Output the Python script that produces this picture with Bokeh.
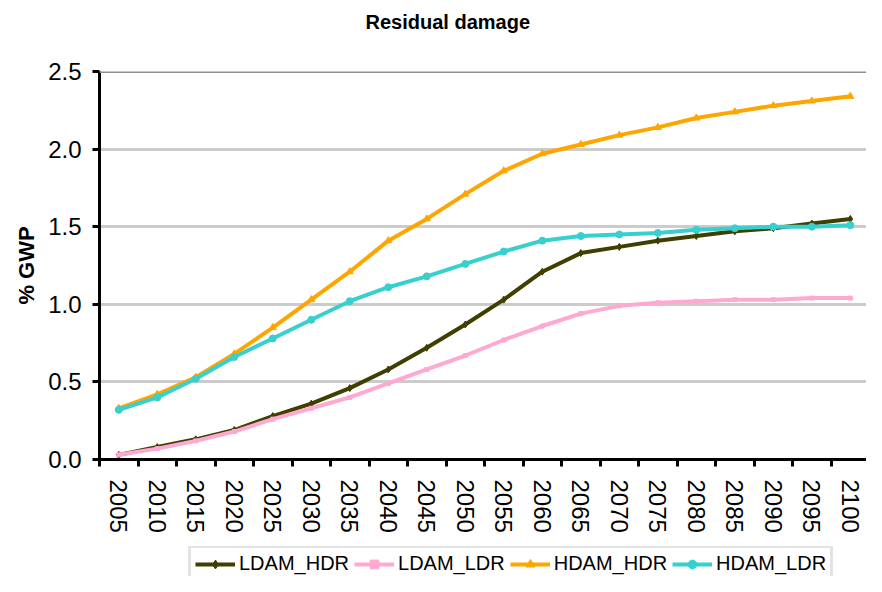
import math
from bokeh.plotting import figure
from bokeh.layouts import column
from bokeh.models import (FixedTicker, Range1d, Legend, LegendItem, Span,
                          PrintfTickFormatter, Title)
from bokeh.embed import file_html
from bokeh.resources import INLINE

years = [2005, 2010, 2015, 2020, 2025, 2030, 2035, 2040, 2045, 2050,
         2055, 2060, 2065, 2070, 2075, 2080, 2085, 2090, 2095, 2100]

ldam_hdr = [0.03, 0.08, 0.13, 0.19, 0.28, 0.36, 0.46, 0.58, 0.72, 0.87,
            1.03, 1.21, 1.33, 1.37, 1.41, 1.44, 1.47, 1.49, 1.52, 1.55]
ldam_ldr = [0.03, 0.07, 0.12, 0.18, 0.26, 0.33, 0.40, 0.49, 0.58, 0.67,
            0.77, 0.86, 0.94, 0.99, 1.01, 1.02, 1.03, 1.03, 1.04, 1.04]
hdam_hdr = [0.33, 0.42, 0.53, 0.68, 0.85, 1.03, 1.21, 1.41, 1.55, 1.71,
            1.86, 1.97, 2.03, 2.09, 2.14, 2.20, 2.24, 2.28, 2.31, 2.34]
hdam_ldr = [0.32, 0.40, 0.52, 0.66, 0.78, 0.90, 1.02, 1.11, 1.18, 1.26,
            1.34, 1.41, 1.44, 1.45, 1.46, 1.48, 1.49, 1.50, 1.50, 1.51]

series_names = ["LDAM_HDR", "LDAM_LDR", "HDAM_HDR", "HDAM_LDR"]
series_values = [ldam_hdr, ldam_ldr, hdam_hdr, hdam_ldr]
series_colors = ["#3F3F00", "#FFA8D2", "#FFA500", "#38CFCF"]
series_markers = ["diamond", "square", "triangle", "circle"]
marker_sizes = [7, 4, 7, 7]

y_ticks = [0.0, 0.5, 1.0, 1.5, 2.0, 2.5]

FONT = "Liberation Sans"

xs = list(range(len(years)))

p = figure(width=866, height=546, output_backend="svg", toolbar_location=None,
           x_range=Range1d(-0.5, 19.42), y_range=Range1d(0, 2.5),
           min_border_left=99, min_border_right=0, min_border_top=71,
           min_border_bottom=87)
p.outline_line_color = None
p.background_fill_color = "white"
p.border_fill_color = "white"

# title: spacer nearest the frame, then the real title above it
spacer = Title(text=" ", text_font=FONT, text_font_size="10px", standoff=26)
p.add_layout(spacer, "above")
t = Title(text="Residual damage", align="left", offset=266,
          text_font=FONT, text_font_size="20px", text_font_style="bold",
          text_color="black", standoff=0)
p.add_layout(t, "above")

# grid
p.xgrid.visible = False
p.ygrid.ticker = FixedTicker(ticks=[0.5, 1.0, 1.5, 2.0])
p.ygrid.grid_line_color = "#CCCCCC"
p.ygrid.grid_line_width = 3
top_line = Span(location=2.5, dimension="width", line_color="#8F8F8F", line_width=3)
p.add_layout(top_line)

# y axis
p.yaxis.ticker = FixedTicker(ticks=y_ticks)
p.yaxis.formatter = PrintfTickFormatter(format="%.1f")
p.yaxis.axis_line_width = 3
p.yaxis.axis_line_color = "black"
p.yaxis.major_tick_line_width = 3
p.yaxis.major_tick_line_color = "black"
p.yaxis.major_tick_out = 7
p.yaxis.major_tick_in = 0
p.yaxis.minor_tick_line_color = None
p.yaxis.major_label_text_font = FONT
p.yaxis.major_label_text_font_size = "24px"
p.yaxis.major_label_text_color = "black"
p.yaxis.major_label_standoff = 11
p.yaxis.axis_label = "% GWP"
p.yaxis.axis_label_text_font = FONT
p.yaxis.axis_label_text_font_size = "22px"
p.yaxis.axis_label_text_font_style = "bold"
p.yaxis.axis_label_text_color = "black"
p.yaxis.axis_label_standoff = 6

# x axis (category style: ticks between categories)
p.xaxis.ticker = FixedTicker(ticks=xs, minor_ticks=[i - 0.5 for i in range(len(years) + 1)])
p.xaxis.major_label_overrides = {i: str(y) for i, y in zip(xs, years)}
p.xaxis.major_label_orientation = -math.pi / 2
p.xaxis.axis_line_width = 3
p.xaxis.axis_line_color = "black"
p.xaxis.major_tick_out = 0
p.xaxis.major_tick_in = 0
p.xaxis.major_tick_line_color = None
p.xaxis.minor_tick_out = 7
p.xaxis.minor_tick_in = 0
p.xaxis.minor_tick_line_color = "black"
p.xaxis.minor_tick_line_width = 3
p.xaxis.major_label_text_font = FONT
p.xaxis.major_label_text_font_size = "24px"
p.xaxis.major_label_text_color = "black"
p.xaxis.major_label_standoff = 13

for name, vals, col, mk, ms in zip(series_names, series_values, series_colors,
                                   series_markers, marker_sizes):
    p.line(xs, vals, line_color=col, line_width=4)
    p.scatter(xs, vals, marker=mk, size=ms, fill_color=col, line_color=col)

# legend strip below the chart (its renderers sit outside the visible range)
lg = figure(width=866, height=30, output_backend="svg", toolbar_location=None,
            x_range=Range1d(0, 1), y_range=Range1d(0, 1),
            x_axis_location=None, y_axis_location=None,
            min_border_left=0, min_border_right=0, min_border_top=0,
            min_border_bottom=0)
lg.outline_line_color = None
lg.xgrid.visible = False
lg.ygrid.visible = False
items = []
for name, col, mk, ms in zip(series_names, series_colors, series_markers, marker_sizes):
    r1 = lg.line([-5, -4], [-5, -5], line_color=col, line_width=4)
    r2 = lg.scatter([-5], [-5], marker=mk, size=ms, fill_color=col, line_color=col)
    items.append(LegendItem(label=name, renderers=[r1, r2]))

legend = Legend(items=items, orientation="horizontal", location=(89, -6),
                label_text_font=FONT, label_text_font_size="20px",
                label_text_color="black", glyph_width=40, glyph_height=22,
                label_height=22, label_standoff=4, spacing=5, padding=4,
                margin=0, border_line_color="#C8C8C8", border_line_width=3,
                background_fill_color="white", background_fill_alpha=1)
lg.add_layout(legend, "center")

layout = column(p, lg, spacing=0)
open("out.html", "w").write(file_html(layout, INLINE))
